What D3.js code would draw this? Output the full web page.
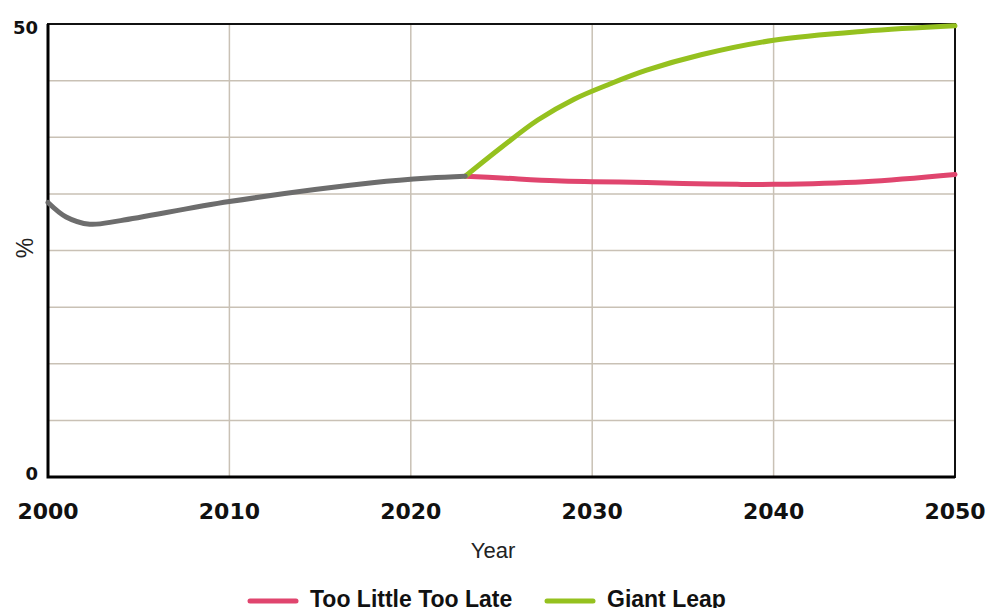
<!DOCTYPE html>
<html lang="en">
<head>
  <meta charset="UTF-8">
  <title>Scenarios</title>
  <script src="https://d3js.org/d3.v7.min.js"></script>
  <style>
    body { margin: 0; background: #fff; font-family: "Liberation Sans", Arial, sans-serif; }
    .grid line { stroke: #c9c1b5; stroke-width: 1.5; }
    .tick-label { font-family: "DejaVu Sans", sans-serif; font-weight: bold; fill: #111; }
    .legend-label { font-weight: bold; font-size: 23px; fill: #111; }
    .series { fill: none; stroke-width: 5; stroke-linecap: round; }
  </style>
</head>
<body>
  <svg width="988" height="608"></svg>

  <script>
    // historical series
    const historyYears = [2000, 2001, 2002.3, 2004, 2010, 2018, 2021, 2023];
    const historyValues = [30.3, 28.7, 27.9, 28.3, 30.4, 32.5, 33.0, 33.2];

    // scenario series
    const scenarioYears = [2023, 2025, 2028, 2030, 2033, 2035, 2038, 2040, 2045, 2050];
    const tooLittleValues = [33.2, 33.0, 32.7, 32.6, 32.5, 32.4, 32.3, 32.3, 32.6, 33.4];
    const giantLeapYears = [2023, 2025, 2027, 2029, 2031, 2033, 2036, 2040, 2045, 2050];
    const giantLeapValues = [33.2, 36.4, 39.4, 41.7, 43.4, 44.9, 46.6, 48.2, 49.2, 49.8];

    const xTicks = [2000, 2010, 2020, 2030, 2040, 2050];
    const yGrid = [0, 6.25, 12.5, 18.75, 25, 31.25, 37.5, 43.75, 50];
    const yLabels = [0, 50];

    const legendItems = [
      { name: "Too Little Too Late", color: "#e0456e" },
      { name: "Giant Leap", color: "#95c11f" }
    ];

    const svg = d3.select("svg");
    const x = d3.scaleLinear().domain([2000, 2050]).range([48, 955]);
    const y = d3.scaleLinear().domain([0, 50]).range([477, 24]);

    // Gitter
    const grid = svg.append("g").attr("class", "grid");
    grid.selectAll(".h").data(yGrid).join("line")
      .attr("x1", x(2000)).attr("x2", x(2050))
      .attr("y1", d => y(d)).attr("y2", d => y(d));
    grid.selectAll(".v").data(xTicks).join("line")
      .attr("x1", d => x(d)).attr("x2", d => x(d))
      .attr("y1", y(0)).attr("y2", y(50));

    // Rahmen
    svg.append("rect")
      .attr("x", x(2000)).attr("y", y(50))
      .attr("width", x(2050) - x(2000)).attr("height", y(0) - y(50))
      .attr("fill", "none").attr("stroke", "#111").attr("stroke-width", 2);
    svg.append("path")
      .attr("d", `M${x(2000)},${y(50)} V${y(0)} H${x(2050)}`)
      .attr("fill", "none").attr("stroke", "#000").attr("stroke-width", 3);

    const line = d3.line().x(d => x(d[0])).y(d => y(d[1])).curve(d3.curveCatmullRom.alpha(0.5));

    svg.append("path").attr("class", "series")
      .attr("stroke", "#e0456e")
      .attr("d", line(d3.zip(scenarioYears, tooLittleValues)));
    svg.append("path").attr("class", "series")
      .attr("stroke", "#95c11f")
      .attr("d", line(d3.zip(giantLeapYears, giantLeapValues)));
    svg.append("path").attr("class", "series")
      .attr("stroke", "#6d6d6d")
      .attr("d", line(d3.zip(historyYears, historyValues)));

    // x-Achse
    svg.selectAll(".xl").data(xTicks).join("text")
      .attr("class", "tick-label")
      .attr("font-size", 22)
      .attr("x", d => x(d)).attr("y", 519)
      .attr("text-anchor", "middle")
      .text(d => d);

    // y-Achse: 50 oben bündig, 0 unten bündig
    svg.selectAll(".yl").data(yLabels).join("text")
      .attr("class", "tick-label")
      .attr("font-size", 18)
      .attr("x", 38).attr("y", d => d === 0 ? y(d) + 3 : y(d) + 10)
      .attr("text-anchor", "end")
      .text(d => d);

    svg.append("text")
      .attr("x", 493).attr("y", 558)
      .attr("text-anchor", "middle")
      .attr("font-size", 22).attr("fill", "#222")
      .text("Year");

    svg.append("text")
      .attr("transform", "translate(33,248) rotate(-90)")
      .attr("text-anchor", "middle")
      .attr("font-size", 23).attr("fill", "#222")
      .text("%");

    // Legende
    const legendX = [248, 545];
    const lg = svg.selectAll(".legend").data(legendItems).join("g")
      .attr("transform", (d, i) => `translate(${legendX[i]},601)`);
    lg.append("line")
      .attr("x1", 2).attr("x2", 48)
      .attr("stroke", d => d.color).attr("stroke-width", 5).attr("stroke-linecap", "round");
    lg.append("text")
      .attr("class", "legend-label")
      .attr("x", 62).attr("y", 6)
      .text(d => d.name);
  </script>
</body>
</html>
